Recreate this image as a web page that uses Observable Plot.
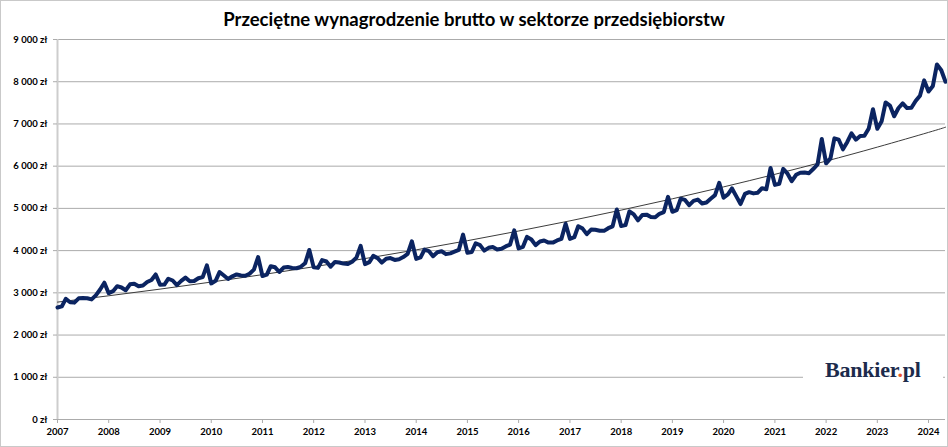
<!DOCTYPE html>
<html>
<head>
<meta charset="utf-8">
<script src="https://cdn.jsdelivr.net/npm/d3@7"></script>
<script src="https://cdn.jsdelivr.net/npm/@observablehq/plot@0.6"></script>
<style>
html, body { margin: 0; padding: 0; background: #fff; }
#wrap { position: relative; width: 948px; height: 447px; overflow: hidden; background: #fff; }
#wrap svg { position: absolute; left: 0; top: 0; }
#frame { position: absolute; left: 0; top: 0; width: 946px; height: 445px; border: 1px solid #c9c9c9; pointer-events: none; }
#title { position: absolute; left: 0; top: 8px; width: 948px; text-align: center; font: bold 18.5px Lato, "Open Sans", sans-serif; line-height: 22px; color: #000; }
#logo { position: absolute; left: 803px; top: 353px; width: 140px; height: 38px; background: #fff; }
#logo span.t { position: absolute; left: 22px; top: 4px; font: bold 22px "Liberation Serif", "DejaVu Serif", serif; color: #1c2b4c; letter-spacing: -0.2px; line-height: 25px; }
#logo span.d { color: #e8572b; }
</style>
</head>
<body>
<div id="wrap"></div>
<script>
// ---- data (monthly, Jan 2007 - May 2024), PLN ----
const startYear = 2007;
const wages2007 = [2652, 2680, 2857, 2776, 2768, 2869, 2875, 2873, 2845, 2940, 3079, 3240];
const wages2008 = [2992, 3040, 3158, 3127, 3062, 3201, 3217, 3158, 3174, 3255, 3304, 3435];
const wages2009 = [3194, 3195, 3334, 3292, 3183, 3282, 3360, 3275, 3281, 3346, 3373, 3651];
const wages2010 = [3223, 3284, 3492, 3410, 3328, 3391, 3436, 3413, 3403, 3453, 3549, 3848];
const wages2011 = [3399, 3431, 3631, 3605, 3494, 3599, 3612, 3590, 3582, 3616, 3700, 4015];
const wages2012 = [3603, 3591, 3775, 3742, 3620, 3732, 3719, 3693, 3683, 3735, 3835, 4111];
const wages2013 = [3680, 3728, 3875, 3822, 3717, 3808, 3823, 3779, 3796, 3847, 3920, 4221];
const wages2014 = [3805, 3838, 4023, 3989, 3867, 3963, 3985, 3916, 3935, 3975, 4017, 4379];
const wages2015 = [3950, 3967, 4174, 4130, 4000, 4066, 4084, 4026, 4043, 4099, 4142, 4480];
const wages2016 = [4052, 4090, 4326, 4263, 4130, 4215, 4238, 4190, 4190, 4240, 4278, 4635];
const wages2017 = [4278, 4317, 4578, 4521, 4391, 4498, 4495, 4472, 4468, 4531, 4575, 4973];
const wages2018 = [4585, 4603, 4931, 4857, 4717, 4843, 4852, 4798, 4788, 4872, 4913, 5274];
const wages2019 = [4919, 4958, 5227, 5201, 5077, 5179, 5209, 5117, 5141, 5229, 5313, 5604];
const wages2020 = [5253, 5331, 5472, 5285, 5103, 5342, 5385, 5355, 5372, 5477, 5454, 5957];
const wages2021 = [5557, 5584, 5935, 5822, 5644, 5796, 5843, 5848, 5834, 5932, 6041, 6644];
const wages2022 = [6067, 6185, 6659, 6627, 6399, 6575, 6778, 6627, 6714, 6721, 6894, 7348];
const wages2023 = [6884, 7066, 7508, 7435, 7181, 7377, 7487, 7377, 7383, 7542, 7670, 8032];
const wages2024 = [7768, 7901, 8408, 8272, 7999];

// trend line (value at start of each year, last = May 2024)
const trendDates = ["2007-01","2008-01","2009-01","2010-01","2011-01","2012-01","2013-01","2014-01","2015-01","2016-01","2017-01","2018-01","2019-01","2020-01","2021-01","2022-01","2023-01","2024-01","2024-05"];
const trendValues = [2780, 2930, 3088, 3255, 3431, 3617, 3812, 4018, 4235, 4464, 4705, 4959, 5227, 5509, 5807, 6120, 6451, 6800, 6923];

const yTicks = [0, 1000, 2000, 3000, 4000, 5000, 6000, 7000, 8000, 9000];
const xTickYears = [2007, 2008, 2009, 2010, 2011, 2012, 2013, 2014, 2015, 2016, 2017, 2018, 2019, 2020, 2021, 2022, 2023, 2024];

const titleText = "Przeciętne wynagrodzenie brutto w sektorze przedsiębiorstw";

// ---- build tables ----
const allWages = [wages2007, wages2008, wages2009, wages2010, wages2011, wages2012, wages2013, wages2014, wages2015, wages2016, wages2017, wages2018, wages2019, wages2020, wages2021, wages2022, wages2023, wages2024];
const series = [];
allWages.forEach((arr, yi) => arr.forEach((v, m) => series.push({date: new Date(Date.UTC(startYear + yi, m, 1)), value: v})));
const parseM = d3.utcParse("%Y-%m");
const trend = trendDates.map((d, i) => ({date: parseM(d), value: trendValues[i]}));
const xTicks = xTickYears.map(y => new Date(Date.UTC(y, 0, 1)));
const xDomain = [series[0].date, series[series.length - 1].date];

const fmtY = d => d3.format(",")(d).replace(/,/g, " ") + " zł";

const chart = Plot.plot({
  width: 948,
  height: 447,
  marginLeft: 57,
  marginRight: 3,
  marginTop: 39,
  marginBottom: 28,
  style: {fontFamily: "Lato, 'Open Sans', sans-serif", fontSize: "9.5px", fontWeight: "bold", color: "#000", background: "transparent"},
  x: {type: "utc", domain: xDomain, label: null},
  y: {domain: [0, 9000], label: null},
  marks: [
    Plot.gridY(yTicks, {stroke: "#ababab", strokeOpacity: 1, strokeWidth: 1}),
    Plot.ruleX([xDomain[0]], {stroke: "#cdcdcd", strokeWidth: 2}),
    Plot.axisY(yTicks, {tickFormat: fmtY, tickSize: 4, tickPadding: 6, stroke: "#ababab", fill: "#000", label: null}),
    Plot.axisX(xTicks, {tickFormat: d3.utcFormat("%Y"), tickSize: 4, tickPadding: 5, stroke: "#ababab", fill: "#000", label: null}),
    Plot.line(trend, {x: "date", y: "value", stroke: "#3c3c3c", strokeWidth: 1, curve: "natural"}),
    Plot.line(series, {x: "date", y: "value", stroke: "#0b2461", strokeWidth: 4, strokeLinejoin: "round", strokeLinecap: "round"})
  ]
});

const wrap = document.getElementById("wrap");
wrap.appendChild(chart);

const title = document.createElement("div");
title.id = "title";
title.textContent = titleText;
wrap.appendChild(title);

const logo = document.createElement("div");
logo.id = "logo";
logo.innerHTML = '<span class="t">Bankier<span class="d">.</span>pl</span>';
wrap.appendChild(logo);

const frame = document.createElement("div");
frame.id = "frame";
wrap.appendChild(frame);
</script>
</body>
</html>
